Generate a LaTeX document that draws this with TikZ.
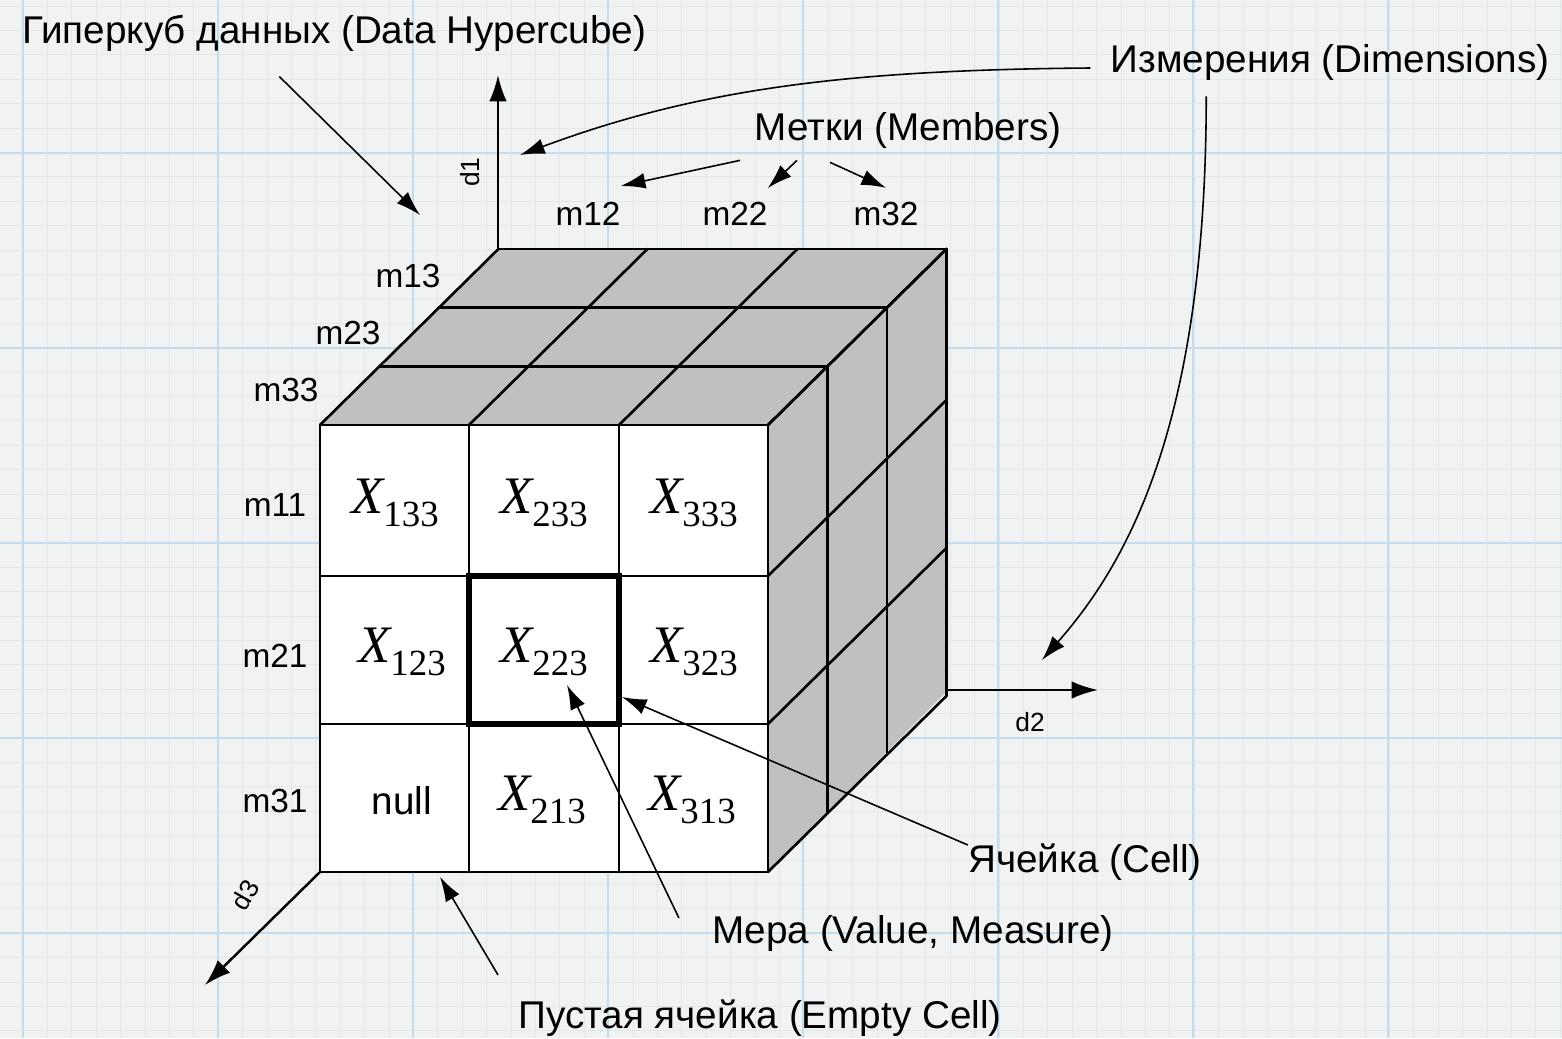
\documentclass[tikz,border=0pt]{standalone}
\usepackage{fontspec}
\setmainfont{Liberation Sans}
\newfontfamily\timesfont{Liberation Serif}
\usetikzlibrary{arrows.meta}
\tikzset{
  edge/.style={line width=1.5pt, line cap=round},
  pointer/.style={line width=0.9pt, -{Latex[length=14pt,width=9pt]}},
  axisline/.style={line width=1.4pt, -{Latex[length=15pt,width=10pt]}},
  lbl/.style={font=\fontsize{22}{24}\selectfont, inner sep=0pt},
  mlbl/.style={font=\fontsize{19}{21}\selectfont, inner sep=0pt},
  axlbl/.style={font=\fontsize{15}{17}\selectfont, inner sep=0pt},
  cellval/.style={font=\fontsize{30}{32}\timesfont, inner sep=0pt},
}
\newcommand\xval[1]{{\itshape X}\raisebox{-7pt}{\fontsize{21}{21}\selectfont #1}}
\begin{document}
\begin{tikzpicture}[x=0.02cm, y=-0.02cm]
\definecolor{paper}{HTML}{F1F2F2}
\definecolor{gridminor}{HTML}{DFE8EE}
\definecolor{gridmajor}{HTML}{C4DCEC}
\definecolor{side}{HTML}{C0C0C0}
\def\dpx{59.5}
\def\dpy{-58.7}
\useasboundingbox (0,0) rectangle (1562,1038);
% graph paper
\fill[paper] (0,0) rectangle (1562,1038);
\foreach \gx in {23,47.4,...,1562} \draw[gridminor, line width=0.5pt] (\gx,0) -- (\gx,1038);
\foreach \gy in {6,30.4,...,1038} \draw[gridminor, line width=0.5pt] (0,\gy) -- (1562,\gy);
\foreach \gx in {23,218,...,1562} \draw[gridmajor, line width=1pt] (\gx,0) -- (\gx,1038);
\foreach \gy in {153,348,...,1038} \draw[gridmajor, line width=1pt] (0,\gy) -- (1562,\gy);
% axes
\coordinate (o1) at (498,249);
\coordinate (o2) at (948,690);
\coordinate (o3) at (320,872);
\coordinate (d1end) at (498,75);
\coordinate (d2end) at (1098,690);
\coordinate (d3end) at (205,985);
\draw[axisline] (o1) -- (d1end);
\draw[axisline] (o2) -- (d2end);
\draw[axisline] (o3) -- (d3end);
\node[axlbl, rotate=90] (d1) at (470,172) {d1};
\node[axlbl] (d2) at (1030,722) {d2};
\node[axlbl, rotate=60] (d3) at (245,895) {d3};
% cube faces
\fill[white] (320,425) rectangle (768,872);
\fill[side] (320,425) -- (o1) -- (948,249) -- (768,425) -- cycle;
\fill[side] (768,425) -- (948,249) -- (o2) -- (768,872) -- cycle;
\foreach \k in {0,...,3} {
  \draw[edge] ({320+\k*\dpx},{425+\k*\dpy}) -- ({768+\k*\dpx},{425+\k*\dpy});
  \draw[edge] ({768+\k*\dpx},{425+\k*\dpy}) -- ({768+\k*\dpx},{872+\k*\dpy});
}
\foreach \cx in {320,469,619,768} \draw[edge] (\cx,425) -- ++({3*\dpx},{3*\dpy});
\foreach \cy in {425,576,724,872} \draw[edge] (768,\cy) -- ++({3*\dpx},{3*\dpy});
\foreach \cx in {320,469,619} \draw[edge] (\cx,425) -- (\cx,872);
\foreach \cy in {576,724,872} \draw[edge] (320,\cy) -- (768,\cy);
\draw[line width=3.4pt] (469,576) rectangle (619,724);
% cell values
\node[cellval] (c133) at (395,503) {\xval{133}};
\node[cellval] (c233) at (544,503) {\xval{233}};
\node[cellval] (c333) at (694,503) {\xval{333}};
\node[cellval] (c123) at (402,652) {\xval{123}};
\node[cellval] (c223) at (544,652) {\xval{223}};
\node[cellval] (c323) at (694,652) {\xval{323}};
\node[font=\fontsize{22}{24}\selectfont, inner sep=0pt] (c113) at (402,801) {null};
\node[cellval] (c213) at (542,800) {\xval{213}};
\node[cellval] (c313) at (692,800) {\xval{313}};
% members
\node[mlbl] (m12) at (588,214) {m12};
\node[mlbl] (m22) at (735,214) {m22};
\node[mlbl] (m32) at (886,214) {m32};
\node[mlbl] (m13) at (408,276) {m13};
\node[mlbl] (m23) at (348,333) {m23};
\node[mlbl] (m33) at (286,390) {m33};
\node[mlbl] (m11) at (275,505) {m11};
\node[mlbl] (m21) at (275,656) {m21};
\node[mlbl] (m31) at (275,801) {m31};
% captions
\node[lbl, anchor=west] (hyper) at (22,33) {Гиперкуб данных (Data Hypercube)};
\node[lbl, anchor=east] (dims) at (1550,63) {Измерения (Dimensions)};
\node[lbl] (members) at (908,130) {Метки (Members)};
\node[lbl] (cell) at (1085,862) {Ячейка (Cell)};
\node[lbl] (measure) at (913,933) {Мера (Value, Measure)};
\node[lbl] (empty) at (760,1018) {Пустая ячейка (Empty Cell)};
% pointers
\coordinate (hypertip) at (420,215);
\coordinate (d1tip) at (520,155);
\coordinate (d2tip) at (1042,660);
\coordinate (celltip) at (622,697);
\coordinate (valtip) at (567,685);
\coordinate (emptytip) at (440,877);
\draw[pointer] ([xshift=-1.1cm, yshift=-0.5cm]hyper.south) -- (hypertip);
\draw[pointer] ([xshift=-0.4cm, yshift=-0.1cm]dims.west) .. controls (850,70) and (700,88) .. (d1tip);
\draw[pointer] ([xshift=-2.48cm, yshift=-0.3cm]dims.south) .. controls (1206,420) and (1130,560) .. (d2tip);
\draw[pointer] ([xshift=-3.36cm, yshift=-0.24cm]members.south) -- ([yshift=0.32cm]m12.north east);
\draw[pointer] ([xshift=-2.22cm, yshift=-0.24cm]members.south) -- ([yshift=0.28cm]m22.north east);
\draw[pointer] ([xshift=-1.56cm, yshift=-0.28cm]members.south) -- ([yshift=0.28cm]m32.north);
\draw[pointer] ([yshift=0.34cm]cell.west) -- (celltip);
\draw[pointer] ([xshift=-0.66cm, yshift=0.3cm]measure.west) -- (valtip);
\draw[pointer] ([xshift=-0.4cm, yshift=0.86cm]empty.west) -- (emptytip);
\end{tikzpicture}
\end{document}
